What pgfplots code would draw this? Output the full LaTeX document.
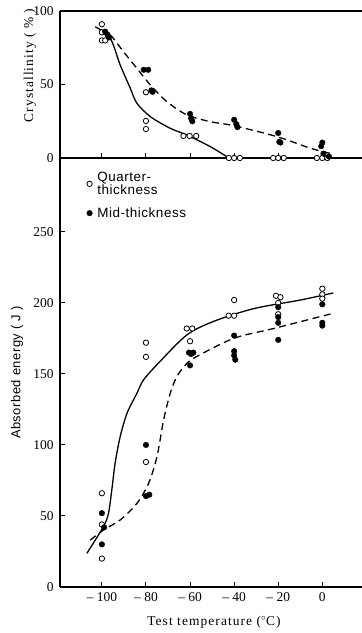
\documentclass[border=0pt]{standalone}
\usepackage{pgfplots}
\pgfplotsset{compat=1.18}
\usepackage{fontspec}
\setmainfont{Liberation Serif}
\newfontfamily\lblfont[LetterSpace=8]{Liberation Serif}
\newfontfamily\sanslbl[LetterSpace=4]{Liberation Sans}

\pgfplotsset{
  common/.style={
    scale only axis, width=302bp,
    xmin=-119, xmax=18,
    axis line style={-, line width=1.1bp},
    tick style={line width=1bp, black},
    major tick length=4.5bp,
    tick align=inside,
    /pgf/number format/assume math mode=true,
    tick label style={font=\fontsize{13.5}{15}\selectfont},
    xtick={-100,-80,-60,-40,-20,0},
  },
  openm/.style={only marks, mark=*, mark size=2.7bp, mark options={fill=white, draw=black, line width=0.8bp}},
  fullm/.style={only marks, mark=*, mark size=2.8bp, mark options={fill=black, draw=black}},
  solidc/.style={no markers, smooth, tension=0.5, line width=1.3bp, black},
  dashc/.style={no markers, smooth, tension=0.5, line width=1.3bp, black, dash pattern=on 7bp off 4.5bp},
}

\begin{document}
\begin{tikzpicture}
\path[use as bounding box] (0,0) rectangle (362bp,633bp);

% ---------- top: crystallinity ----------
\begin{axis}[common,
  at={(60bp,475bp)}, anchor=south west,
  height=147bp,
  ymin=0, ymax=100,
  axis x line*=box, axis y line*=left,
  xtick pos=bottom, xticklabels={},
  ytick={0,50,100},
  yticklabel style={xshift=-3bp},
  ylabel={\lblfont\fontsize{13.5}{15}\selectfont Crystallinity ( \% )},
  ylabel style={at={(axis description cs:-0.1,0.63)}, anchor=center, rotate=0},
  clip=false,
]
\addplot[dashc] coordinates {(-101,87) (-96.2,83.7) (-90.2,72.3) (-84.1,61) (-78,49.7) (-70.5,38.3) (-61.4,29.3) (-50.8,24.7) (-40.2,22) (-20.5,14.5) (-5.3,6.6) (4,3)};
\addplot[solidc] coordinates {(-103,89.3) (-96.2,81.4) (-91.7,63.3) (-87.1,47.4) (-84.1,37.2) (-78,28.1) (-69,20.2) (-61.4,15.6) (-50.8,7.7) (-42.4,0)};
\addplot[openm] table {
x y
-100 91
-100 85.5
-100 80
-98.5 80
-80 44.7
-80 25.2
-80 19.7
-63 15
-60.2 15
-57.2 15
-42.4 0
-40 0
-37.4 0
-22.3 0
-20 0
-17.5 0
-2.5 0
0 0
2.3 0
};
\addplot[fullm] table {
x y
-98.5 86
-97.5 84
-96.8 82
-81 60
-79 60
-77.5 46
-77 45
-60 30
-59.5 27
-59 25
-40 26
-39 23
-38.5 21
-20 17
-19.5 11
-19 10.5
0 10.5
-0.5 8
0.5 3
3 1
};
\end{axis}

% ---------- bottom: absorbed energy ----------
\begin{axis}[common,
  at={(60bp,46bp)}, anchor=south west,
  height=429bp,
  ymin=0, ymax=302,
  axis x line*=bottom, axis y line*=left,
  ytick={0,50,100,150,200,250},
  yticklabel style={xshift=-3bp},
  xticklabels={{--\ 100},{--\ 80},{--\ 60},{--\ 40},{--\ 20},0},
  xticklabel style={yshift=-2bp},
  xlabel={\lblfont\fontsize{13.5}{15}\selectfont Test temperature (${}^{\circ}$C)},
  xlabel style={at={(axis description cs:0.51,0)}, anchor=north, yshift=-26bp},
  ylabel={\sanslbl\fontsize{13}{15}\selectfont Absorbed energy ( J )},
  ylabel style={at={(axis description cs:-0.142,0.5)}, anchor=center},
  legend style={at={(axis description cs:0.088,0.972)}, anchor=north west, draw=none, fill=none,
    font=\sanslbl\fontsize{13.5}{12.5}\selectfont, row sep=8bp, column sep=3bp, inner sep=0pt,
    cells={anchor=west, align=left}},
  clip=false,
]
\addplot[solidc, forget plot] coordinates {(-106.8,23.7) (-99.3,42.5) (-97,51.9) (-95.5,68.3) (-94,87.1) (-91.7,105.8) (-88.6,122.3) (-84.1,136.4) (-81.1,145.8) (-73.5,159) (-61.4,177.5) (-49.3,187) (-31,196) (-10,202) (5,207)};
\addplot[dashc, forget plot] coordinates {(-105.3,33) (-99.3,40.1) (-91.7,47.2) (-84.1,58.9) (-78.8,73) (-75,91.8) (-72,117.6) (-69,136.4) (-66.2,147.5) (-63,154.5) (-58.4,161) (-40.2,175) (-22,182) (5,192.7)};
\addplot[openm] table {
x y
-100 66
-100 44
-100 20
-80 172
-80 162
-80 88
-61.5 182
-59 182
-60 173
-42.5 191
-40 191
-40 202
-21 205
-19 204
-20 200
-20 192
0 210
0 206
0 203
};
\addlegendentry{Quarter-\\thickness}
\addplot[fullm] table {
x y
-100 52
-99 42
-100 30
-80 100
-80 64
-78.5 65
-60.5 165
-58.5 165
-60 156
-59.5 164
-40 177
-40 166
-40 163
-39.5 160
-20 197
-20 190
-20 186
-20 174
0 199
0 186
0 184
};
\addlegendentry{Mid-thickness}
\end{axis}
\end{tikzpicture}
\end{document}
